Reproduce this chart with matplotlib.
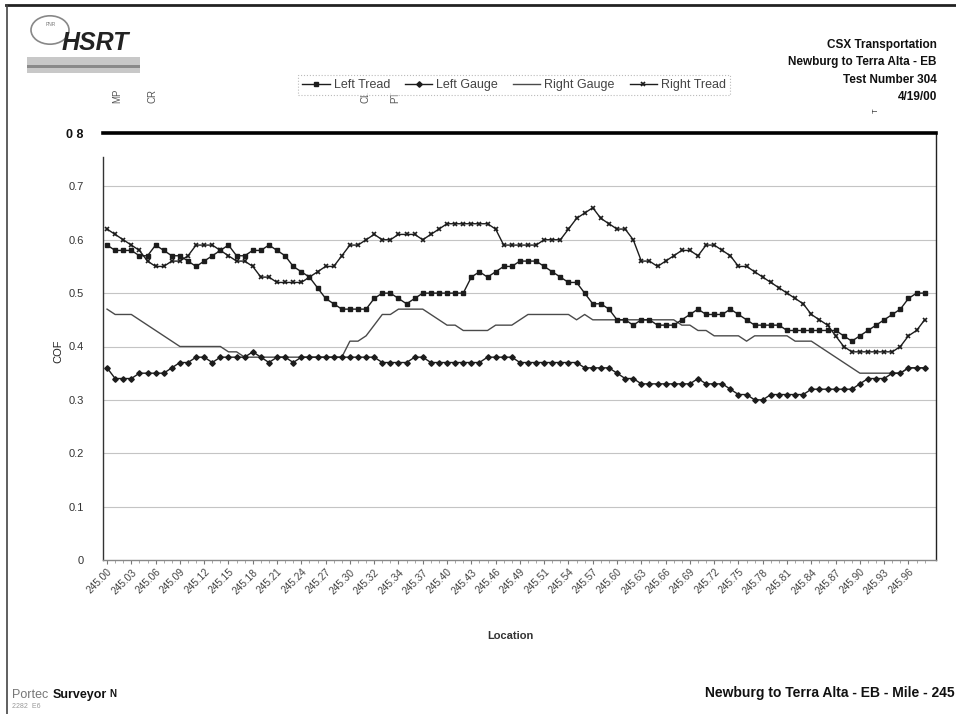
import matplotlib
matplotlib.use("Agg")
import matplotlib.pyplot as plt
from matplotlib.patches import Circle, Rectangle
from matplotlib.lines import Line2D

plt.rcParams['font.family'] = ['Liberation Sans', 'DejaVu Sans']

# ---------------- data ----------------
series_names = ["Left Tread", "Left Gauge", "Right Gauge", "Right Tread"]

left_tread = [0.59, 0.58, 0.58, 0.58, 0.57, 0.57, 0.59, 0.58, 0.57, 0.57,
              0.56, 0.55, 0.56, 0.57, 0.58, 0.59, 0.57, 0.57, 0.58, 0.58,
              0.59, 0.58, 0.57, 0.55, 0.54, 0.53, 0.51, 0.49, 0.48, 0.47,
              0.47, 0.47, 0.47, 0.49, 0.50, 0.50, 0.49, 0.48, 0.49, 0.50,
              0.50, 0.50, 0.50, 0.50, 0.50, 0.53, 0.54, 0.53, 0.54, 0.55,
              0.55, 0.56, 0.56, 0.56, 0.55, 0.54, 0.53, 0.52, 0.52, 0.50,
              0.48, 0.48, 0.47, 0.45, 0.45, 0.44, 0.45, 0.45, 0.44, 0.44,
              0.44, 0.45, 0.46, 0.47, 0.46, 0.46, 0.46, 0.47, 0.46, 0.45,
              0.44, 0.44, 0.44, 0.44, 0.43, 0.43, 0.43, 0.43, 0.43, 0.43,
              0.43, 0.42, 0.41, 0.42, 0.43, 0.44, 0.45, 0.46, 0.47, 0.49,
              0.50, 0.50]

left_gauge = [0.36, 0.34, 0.34, 0.34, 0.35, 0.35, 0.35, 0.35, 0.36, 0.37,
              0.37, 0.38, 0.38, 0.37, 0.38, 0.38, 0.38, 0.38, 0.39, 0.38,
              0.37, 0.38, 0.38, 0.37, 0.38, 0.38, 0.38, 0.38, 0.38, 0.38,
              0.38, 0.38, 0.38, 0.38, 0.37, 0.37, 0.37, 0.37, 0.38, 0.38,
              0.37, 0.37, 0.37, 0.37, 0.37, 0.37, 0.37, 0.38, 0.38, 0.38,
              0.38, 0.37, 0.37, 0.37, 0.37, 0.37, 0.37, 0.37, 0.37, 0.36,
              0.36, 0.36, 0.36, 0.35, 0.34, 0.34, 0.33, 0.33, 0.33, 0.33,
              0.33, 0.33, 0.33, 0.34, 0.33, 0.33, 0.33, 0.32, 0.31, 0.31,
              0.30, 0.30, 0.31, 0.31, 0.31, 0.31, 0.31, 0.32, 0.32, 0.32,
              0.32, 0.32, 0.32, 0.33, 0.34, 0.34, 0.34, 0.35, 0.35, 0.36,
              0.36, 0.36]

right_gauge = [0.47, 0.46, 0.46, 0.46, 0.45, 0.44, 0.43, 0.42, 0.41, 0.40,
               0.40, 0.40, 0.40, 0.40, 0.40, 0.39, 0.39, 0.38, 0.38, 0.38,
               0.38, 0.38, 0.38, 0.38, 0.38, 0.38, 0.38, 0.38, 0.38, 0.38,
               0.41, 0.41, 0.42, 0.44, 0.46, 0.46, 0.47, 0.47, 0.47, 0.47,
               0.46, 0.45, 0.44, 0.44, 0.43, 0.43, 0.43, 0.43, 0.44, 0.44,
               0.44, 0.45, 0.46, 0.46, 0.46, 0.46, 0.46, 0.46, 0.45, 0.46,
               0.45, 0.45, 0.45, 0.45, 0.45, 0.45, 0.45, 0.45, 0.45, 0.45,
               0.45, 0.44, 0.44, 0.43, 0.43, 0.42, 0.42, 0.42, 0.42, 0.41,
               0.42, 0.42, 0.42, 0.42, 0.42, 0.41, 0.41, 0.41, 0.40, 0.39,
               0.38, 0.37, 0.36, 0.35, 0.35, 0.35, 0.35, 0.35, 0.35, 0.36,
               0.36, 0.36]

right_tread = [0.62, 0.61, 0.60, 0.59, 0.58, 0.56, 0.55, 0.55, 0.56, 0.56,
               0.57, 0.59, 0.59, 0.59, 0.58, 0.57, 0.56, 0.56, 0.55, 0.53,
               0.53, 0.52, 0.52, 0.52, 0.52, 0.53, 0.54, 0.55, 0.55, 0.57,
               0.59, 0.59, 0.60, 0.61, 0.60, 0.60, 0.61, 0.61, 0.61, 0.60,
               0.61, 0.62, 0.63, 0.63, 0.63, 0.63, 0.63, 0.63, 0.62, 0.59,
               0.59, 0.59, 0.59, 0.59, 0.60, 0.60, 0.60, 0.62, 0.64, 0.65,
               0.66, 0.64, 0.63, 0.62, 0.62, 0.60, 0.56, 0.56, 0.55, 0.56,
               0.57, 0.58, 0.58, 0.57, 0.59, 0.59, 0.58, 0.57, 0.55, 0.55,
               0.54, 0.53, 0.52, 0.51, 0.50, 0.49, 0.48, 0.46, 0.45, 0.44,
               0.42, 0.40, 0.39, 0.39, 0.39, 0.39, 0.39, 0.39, 0.40, 0.42,
               0.43, 0.45]

location_labels = ["245.00", "245.03", "245.06", "245.09", "245.12", "245.15",
                   "245.18", "245.21", "245.24", "245.27", "245.30", "245.32",
                   "245.34", "245.37", "245.40", "245.43", "245.46", "245.49",
                   "245.51", "245.54", "245.57", "245.60", "245.63", "245.66",
                   "245.69", "245.72", "245.75", "245.78", "245.81", "245.84",
                   "245.87", "245.90", "245.93", "245.96"]
label_every = 3

event_labels = ["MP", "CR", "CL", "PT", "T"]
event_index = [1.2, 5.6, 31.9, 35.6, 95.0]

y_tick_values = [0, 0.1, 0.2, 0.3, 0.4, 0.5, 0.6, 0.7, 0.8]
y_tick_labels = ["0", "0.1", "0.2", "0.3", "0.4", "0.5", "0.6", "0.7", "0 8"]

header_lines = ["CSX Transportation", "Newburg to Terra Alta - EB",
                "Test Number 304", "4/19/00"]

# ---------------- figure ----------------
W, H = 956, 714
fig = plt.figure(figsize=(W / 100, H / 100), dpi=100)
fig.patch.set_facecolor("white")


def fx(px):
    return px / W


def fy(py):
    return 1 - py / H


ax = fig.add_axes([fx(103), fy(560), (936 - 103) / W, (560 - 133) / H])

n = len(left_tread)
xs = list(range(n))
line_col = "#1c1c1c"
h_lt, = ax.plot(xs, left_tread, color=line_col, lw=1.0, marker="s", ms=2.8,
                mfc=line_col, mec=line_col, label=series_names[0], zorder=4)
h_lg, = ax.plot(xs, left_gauge, color=line_col, lw=1.0, marker="D", ms=2.8,
                mfc=line_col, mec=line_col, label=series_names[1], zorder=4)
h_rg, = ax.plot(xs, right_gauge, color="#4a4a4a", lw=1.0,
                label=series_names[2], zorder=3)
h_rt, = ax.plot(xs, right_tread, color=line_col, lw=1.0, marker="x", ms=3.4,
                mew=1.2, mec=line_col, label=series_names[3], zorder=4)

ax.set_xlim(-0.5, n + 0.4)
ax.set_ylim(0, 0.8)

# gridlines
for v in y_tick_values[1:-1]:
    ax.axhline(v, color="#c4c4c4", lw=0.8, zorder=1)

ax.set_yticks(y_tick_values)
ax.set_yticklabels(y_tick_labels)
ax.tick_params(axis="y", length=0, pad=14, labelsize=8, labelcolor="#333333")
ylabs = ax.get_yticklabels()
ylabs[-1].set_fontweight("bold")
ylabs[-1].set_fontsize(9)
ylabs[-1].set_color("#111111")

tick_pos = list(range(0, n, label_every))[:len(location_labels)]
ax.set_xticks(tick_pos)
ax.set_xticklabels(location_labels, rotation=45, ha="right",
                   rotation_mode="anchor", fontsize=7.3, color="#444444")
ax.set_xticks(xs, minor=True)
ax.tick_params(axis="x", which="major", length=3, color="#777777", pad=2)
ax.tick_params(axis="x", which="minor", length=2, color="#999999")

# spines
ax.spines["top"].set_linewidth(2.6)
ax.spines["top"].set_color("black")
ax.spines["right"].set_linewidth(1.0)
ax.spines["right"].set_color("#222222")
ax.spines["left"].set_linewidth(1.0)
ax.spines["left"].set_color("#333333")
ax.spines["left"].set_bounds(0, 0.755)
ax.spines["bottom"].set_linewidth(1.0)
ax.spines["bottom"].set_color("#888888")

ax.set_ylabel("COF", fontsize=8, color="#222222")
ax.yaxis.set_label_coords((63 - 103) / 833, 0.49)
ax.set_xlabel("Location", fontsize=8, fontweight="bold", color="#333333")
ax.xaxis.set_label_coords((510 - 103) / 833, (560 - 631) / 427)

# event markers above the chart
for lab, idx in zip(event_labels, event_index):
    if lab == "T":
        ax.text(idx, 0.8 + 20 / 534, lab, rotation=90, fontsize=5.5,
                color="#333333", ha="center", va="bottom", clip_on=False)
    else:
        ax.text(idx, 0.8 + 30 / 534, lab, rotation=90, fontsize=7,
                color="#555555", ha="center", va="bottom", clip_on=False)

# legend
handles = [h_lt, h_lg, h_rg, h_rt]
leg = fig.legend(handles, series_names, loc="center", ncol=4,
                 bbox_to_anchor=(fx(514), fy(85)), fontsize=9,
                 frameon=True, fancybox=False, edgecolor="#aaaaaa",
                 borderpad=0.35, handlelength=2.2, handletextpad=0.3,
                 columnspacing=1.2, labelcolor="#444444")
leg.get_frame().set_linewidth(0.8)
leg.get_frame().set_linestyle(":")

# header text (right)
for k, t in enumerate(header_lines):
    fig.text(fx(937), fy(45 + k * 17.5), t, ha="right", va="center",
             fontsize=8.5, fontweight="bold", color="#111111")

# logo
fig.patches.append(Circle((fx(50), fy(30)), 19 / W, transform=fig.transFigure,
                          fill=False, ec="#888888", lw=1.2))
fig.patches.append(Rectangle((fx(27), fy(73)), 113 / W, 16 / H,
                             transform=fig.transFigure, fc="#c8c8c8",
                             ec="none"))
fig.patches.append(Rectangle((fx(27), fy(68)), 113 / W, 3 / H,
                             transform=fig.transFigure, fc="#8a8a8a",
                             ec="none"))
fig.text(fx(51), fy(24), "PNR", fontsize=3.5, color="#777777",
         ha="center", va="center")
fig.text(fx(62), fy(43), "HSRT", fontsize=18, fontweight="bold",
         style="italic", color="#222222", ha="left", va="center")

# page border lines
fig.add_artist(Line2D([fx(6), fx(956)], [fy(5), fy(5)],
                      transform=fig.transFigure, color="#222222", lw=2))
fig.add_artist(Line2D([fx(7), fx(7)], [fy(5), fy(714)],
                      transform=fig.transFigure, color="#444444", lw=1.2))

# footer
fig.text(fx(12), fy(695), "Portec", fontsize=9, color="#777777",
         ha="left", va="center")
fig.text(fx(53), fy(695), "Surveyor", fontsize=9, fontweight="bold",
         color="#111111", ha="left", va="center")
fig.text(fx(109), fy(690), "N", fontsize=7, fontweight="bold",
         color="#111111", ha="left", va="center", rotation=180)
fig.text(fx(12), fy(706), "2282  E6", fontsize=5, color="#999999",
         ha="left", va="center")
fig.text(fx(955), fy(693), "Newburg to Terra Alta - EB - Mile - 245",
         fontsize=10, fontweight="bold", color="#111111",
         ha="right", va="center")

fig.savefig("out.png", dpi=100, facecolor="white")
